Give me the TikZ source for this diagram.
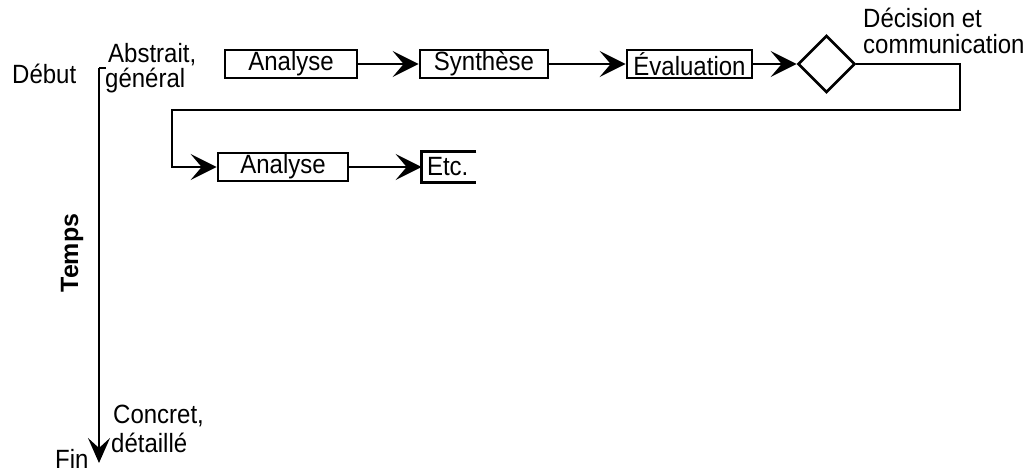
\documentclass[tikz,border=0pt]{standalone}
\usepackage{fontspec}
\setmainfont{Liberation Sans}
\usetikzlibrary{arrows.meta,shapes.geometric}

% labels are set slightly taller than the font's natural shape
\newcommand{\tallt}[1]{\scalebox{1}[1.1]{#1}}

\tikzset{
  stage/.style={draw, line width=2.7pt, inner sep=0pt, minimum height=28pt,
                font=\fontsize{24}{28}\selectfont},
  decide/.style={draw, diamond, line width=2.7pt, inner sep=0pt,
                 minimum width=57pt, minimum height=57pt},
  flow/.style={line width=2.7pt, -{Stealth[length=26pt,width=26pt,inset=11pt]}},
  plain/.style={line width=2.7pt},
  lbl/.style={inner sep=0pt, anchor=base west, font=\fontsize{24}{28}\selectfont},
}

\begin{document}
\begin{tikzpicture}[x=1pt, y=-1pt]
  \useasboundingbox (0,0) rectangle (1034,474);

  % first cycle
  \node[stage, minimum width=132pt] (an1) at (291,64) {\tallt{Analyse}};
  \node[stage, minimum width=128pt] (syn) at (484,64) {\tallt{Synthèse}};
  \node[stage, minimum width=125pt] (eva) at (689.5,64) {\tallt{Évaluation}};
  \node[decide] (dec) at (826.5,64) {};

  \draw[flow] (an1) -- (syn);
  \draw[flow] (syn) -- (eva);
  \draw[flow] (eva) -- (dec);

  % return to the next cycle
  \coordinate (retR) at (960,110);
  \coordinate (retL) at (172,110);
  \node[stage, minimum width=130pt] (an2) at (283,167) {\tallt{Analyse}};
  \node[stage, draw=none, minimum width=52pt, text width=44pt, align=left] (etc) at (449,167) {\tallt{Etc.}};
  \draw[plain] (etc.north east) -- (etc.north west) -- (etc.south west) -- (etc.south east);

  \draw[flow] (dec.east) -| (retR) -- (retL) |- (an2.west);
  \draw[flow] (an2) -- (etc.west);

  \node[lbl] (dlab1) at (863,27) {\tallt{Décision et}};
  \node[lbl] (dlab2) at (863,53) {\tallt{communication}};

  % time axis
  \coordinate (axtick) at (106,68);
  \coordinate (axtop) at (99,68);
  \coordinate (axbot) at (99,463);
  \draw[plain, line width=2.4pt] (axtick) -- (axtop);
  \draw[flow, line width=2.4pt, -{Stealth[length=25pt,width=22pt,inset=10pt]}] (axtop) -- (axbot);

  \node[lbl] (debut) at (12,83) {\tallt{Début}};
  \node[lbl] (abs1) at (108,62) {\tallt{Abstrait,}};
  \node[lbl] (abs2) at (105,87) {\tallt{général}};
  \node[lbl] (con1) at (113,423) {\tallt{Concret,}};
  \node[lbl] (con2) at (111,452) {\tallt{détaillé}};
  \node[lbl] (fin) at (55,468) {\tallt{Fin}};
  \node[inner sep=0pt, rotate=90, font=\fontsize{25}{29}\selectfont\bfseries] (temps) at (72,253) {Temps};
\end{tikzpicture}
\end{document}
